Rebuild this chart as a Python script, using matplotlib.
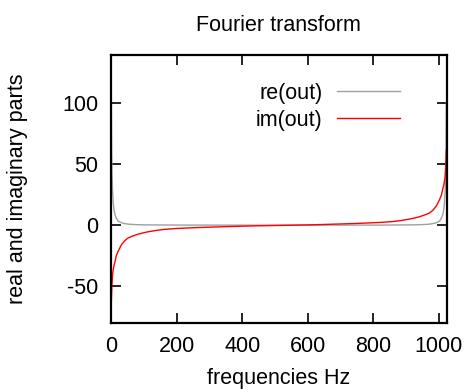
import matplotlib
matplotlib.use('Agg')
import matplotlib.pyplot as plt

plt.rcParams['font.family'] = ['Liberation Sans', 'DejaVu Sans']
plt.rcParams['axes.unicode_minus'] = False

# frequency bins (Hz), denser near the edges
freq = [0, 1, 2, 3, 5, 7, 9, 12, 16, 22, 32, 42, 52, 65, 83, 100, 113, 140, 164,
        200, 250, 300, 350, 400, 450, 512, 574, 624, 674, 724, 774, 824, 860, 884,
        911, 924, 941, 959, 972, 982, 992, 1002, 1008, 1012, 1015, 1017, 1019,
        1021, 1022, 1023]

re_out = [175, 100, 60, 42, 27, 18, 13, 9, 6, 3.5, 2.2, 1.5, 1.1, 0.8, 0.6, 0.5,
          0.45, 0.4, 0.35, 0.3, 0.28, 0.26, 0.25, 0.24, 0.24, 0.24, 0.24, 0.24,
          0.25, 0.26, 0.28, 0.3, 0.35, 0.4, 0.45, 0.5, 0.6, 0.8, 1.1, 1.5, 2.2,
          3.5, 6, 9, 13, 18, 27, 42, 60, 100]

im_out = [0, -62, -55, -48, -40, -36, -33, -30, -25, -21, -15.8, -12.5, -10.3,
          -8.8, -7.1, -6.0, -5.2, -4.0, -3.2, -2.5, -1.9, -1.4, -1.0, -0.6, -0.3,
          0, 0.3, 0.6, 1.0, 1.4, 1.9, 2.5, 3.2, 4.0, 5.2, 6.0, 7.1, 8.8, 10.3,
          12.5, 15.8, 21, 25, 30, 33, 36, 40, 48, 55, 62]

fs = 15.5
fig = plt.figure(figsize=(4.67, 3.92), dpi=100)
ax = fig.add_axes([111 / 467, 1 - 323 / 392, 335.7 / 467, 268.3 / 392])

ax.plot(freq, re_out, color='#a0a0a0', lw=1, label='re(out)')
ax.plot(freq, im_out, color='#ff0000', lw=1, label='im(out)')

ax.set_xlim(0, 1024)
ax.set_ylim(-80, 140)
ax.set_xticks([0, 200, 400, 600, 800, 1000])
ax.set_yticks([-50, 0, 50, 100])
ax.tick_params(direction='in', length=7.5, width=1.2, top=True, right=True,
               labelsize=fs, pad=9)
for s in ax.spines.values():
    s.set_linewidth(1.6)

ax.set_title('Fourier transform', fontsize=fs, pad=17)
ax.set_xlabel('frequencies Hz', fontsize=fs, labelpad=8)
ax.set_ylabel('real and imaginary parts', fontsize=fs, labelpad=25)

ax.legend(frameon=False, markerfirst=False, fontsize=fs, loc='upper right',
          bbox_to_anchor=(0.861, 0.895), borderaxespad=0, borderpad=0,
          handlelength=2.95, handletextpad=0.65, labelspacing=0.28)

fig.savefig('out.png', dpi=100)
